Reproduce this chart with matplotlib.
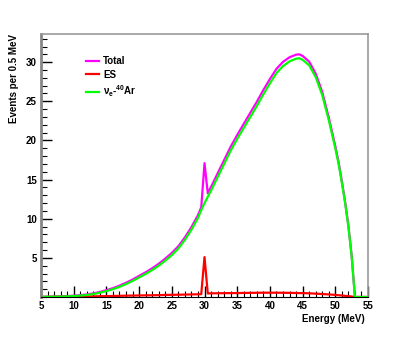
import numpy as np
import matplotlib.pyplot as plt
from matplotlib.ticker import MultipleLocator

plt.rcParams['font.family'] = ['Liberation Sans', 'DejaVu Sans']
plt.rcParams['font.weight'] = 'bold'

# energy grid (MeV) and events per 0.5 MeV
energy = [5, 6, 7, 8, 9, 10, 11, 12, 13, 14, 15, 16, 17, 18, 19, 20, 21, 22, 23, 24,
          25, 26, 27, 28, 29, 29.5, 30, 30.5, 31, 32, 33, 34, 35, 36, 37, 38, 39, 40,
          41, 42, 43, 44, 44.5, 45, 46, 47, 48, 49, 50, 50.5, 51, 51.5, 52, 52.5, 53, 54, 55]

nue_ar = [0.02, 0.03, 0.04, 0.06, 0.08, 0.12, 0.18, 0.26, 0.38, 0.55, 0.75, 1.0, 1.3, 1.65, 2.05,
          2.5, 2.95, 3.45, 4.0, 4.65, 5.35, 6.2, 7.3, 8.6, 10.1, 11.1, 12.0, 12.8, 13.6, 15.3, 17.0,
          18.7, 20.2, 21.6, 23.0, 24.4, 25.9, 27.3, 28.6, 29.5, 30.1, 30.45, 30.5, 30.3, 29.6,
          28.1, 25.8, 22.6, 19.0, 17.0, 14.6, 12.0, 9.0, 5.2, 0.0, 0.0, 0.0]

es = [0.0, 0.01, 0.02, 0.03, 0.04, 0.05, 0.06, 0.07, 0.08, 0.1, 0.12, 0.13, 0.15, 0.17, 0.18,
      0.2, 0.21, 0.22, 0.24, 0.26, 0.28, 0.29, 0.31, 0.33, 0.35, 0.36, 5.1, 0.45, 0.47, 0.48, 0.49,
      0.5, 0.5, 0.52, 0.53, 0.54, 0.55, 0.55, 0.55, 0.54, 0.53, 0.51, 0.5, 0.5, 0.47,
      0.43, 0.38, 0.33, 0.27, 0.23, 0.19, 0.15, 0.11, 0.06, 0.0, 0.0, 0.0]

total = [0.02, 0.04, 0.06, 0.09, 0.12, 0.17, 0.24, 0.33, 0.46, 0.65, 0.87, 1.13, 1.45, 1.82, 2.23,
         2.7, 3.16, 3.67, 4.24, 4.91, 5.63, 6.49, 7.61, 8.93, 10.45, 11.46, 17.1, 13.25, 14.07, 15.78, 17.49,
         19.2, 20.7, 22.12, 23.53, 24.94, 26.45, 27.85, 29.15, 30.04, 30.63, 30.96, 31.0, 30.8, 30.07,
         28.53, 26.18, 22.93, 19.27, 17.23, 14.79, 12.15, 9.11, 5.26, 0.0, 0.0, 0.0]

fig = plt.figure(figsize=(4.10, 3.46), dpi=100)
ax = fig.add_axes([0.1, 0.1416, 0.7976, 0.7601])

ax.plot(energy, total, color='#ff00ff', lw=1.6, label='Total')
ax.plot(energy, es, color='#ff0000', lw=1.6, label='ES')
ax.plot(energy, nue_ar, color='#00ff00', lw=1.6, label=r'$\mathregular{\nu_e}$-$\mathregular{^{40}}$Ar')

ax.set_xlim(5, 55)
ax.set_ylim(0, 33.6)

ax.xaxis.set_major_locator(MultipleLocator(5))
ax.xaxis.set_minor_locator(MultipleLocator(1))
ax.set_yticks([5, 10, 15, 20, 25, 30])
ax.yaxis.set_minor_locator(MultipleLocator(1))

ax.tick_params(which='both', direction='in', top=False, right=False, labelsize=7, pad=3)
ax.tick_params(which='major', length=8, width=1)
ax.tick_params(which='minor', length=4, width=0.8)

for side in ['top', 'right']:
    ax.spines[side].set_color('#999999')
    ax.spines[side].set_linewidth(1.2)
ax.spines['left'].set_color('#888888')
ax.spines['left'].set_linewidth(2)
ax.spines['bottom'].set_color('black')

ax.set_ylabel('Events per 0.5 MeV', fontsize=7, fontweight='bold')
ax.yaxis.set_label_coords(-0.068, 1.0)
ax.yaxis.label.set_horizontalalignment('right')
ax.set_xlabel('Energy (MeV)', fontsize=7, fontweight='bold')
ax.xaxis.set_label_coords(0.99, -0.065)
ax.xaxis.label.set_horizontalalignment('right')

ax.legend(loc='upper left', bbox_to_anchor=(0.11, 0.95), frameon=False,
          handlelength=1.4, handletextpad=0.4, labelspacing=0.4, prop={'weight': 'bold', 'size': 7})

plt.savefig('out.png', dpi=100)
